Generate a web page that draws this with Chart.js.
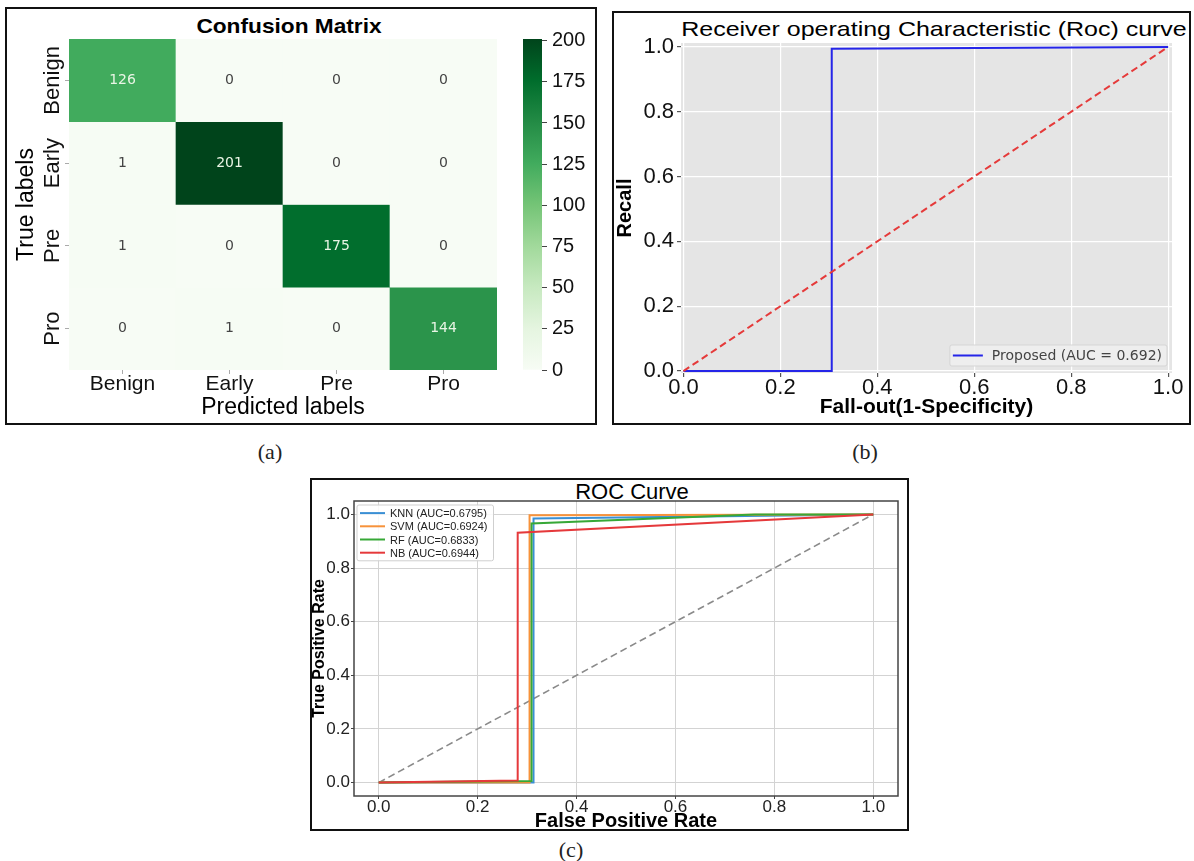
<!DOCTYPE html>
<html>
<head>
<meta charset="utf-8">
<title>Confusion matrix and ROC curves</title>
<script src="https://cdn.jsdelivr.net/npm/chart.js@4.4.1/dist/chart.umd.min.js"></script>
<style>
    body { margin: 0; background: #fff; width: 1194px; height: 861px; position: relative; overflow: hidden; font-family: "Liberation Sans", Arial, sans-serif; }
    .frame { position: absolute; border: 2px solid #111; box-sizing: border-box; }
    canvas { position: absolute; }
    .title { position: absolute; transform: translate(-50%, -50%); white-space: nowrap; color: #000; line-height: 1; }
    .caption { position: absolute; transform: translate(-50%, -50%); font-family: "Liberation Serif", serif; font-size: 22px; color: #222; line-height: 1; }
</style>
</head>
<body>
<div class="frame" style="left:5px;top:7px;width:592px;height:418px"></div>
<div class="frame" style="left:612px;top:11px;width:579px;height:414px"></div>
<div class="frame" style="left:310px;top:478px;width:599px;height:353px"></div>

<!-- the source figure is a little stretched sideways, so the titles are too -->
<div class="title" style="left:289px;top:25px;font-size:21px;font-weight:bold;transform:translate(-50%,-50%) scaleX(1.08)">Confusion Matrix</div>
<div class="title" style="left:934px;top:28px;font-size:21px;transform:translate(-50%,-50%) scaleX(1.19)">Receiver operating Characteristic (Roc) curve</div>
<div class="title" style="left:632px;top:492px;font-size:22px">ROC Curve</div>

<canvas id="cm" width="510" height="422" style="left:5px;top:3px"></canvas>
<canvas id="cm-bar" width="85" height="422" style="left:515px;top:3px"></canvas>
<canvas id="roc-proposed" width="578" height="412" style="left:612px;top:12px"></canvas>
<canvas id="roc-models" width="594" height="352" style="left:312px;top:481px"></canvas>

<div class="caption" style="left:270px;top:452px">(a)</div>
<div class="caption" style="left:865px;top:452px">(b)</div>
<div class="caption" style="left:571px;top:850px">(c)</div>

<script>
// start: Data
const predLabels = ['Benign', 'Early', 'Pre', 'Pro'];
const trueLabels = ['Benign', 'Early', 'Pre', 'Pro'];
const matrix = [
    [126, 0, 0, 0],
    [1, 201, 0, 0],
    [1, 0, 175, 0],
    [0, 1, 0, 144]
];

const proposedLabel = 'Proposed (AUC = 0.692)';
const proposedFpr = [0, 0.306, 0.306, 1];
const proposedTpr = [0, 0, 0.994, 1];

const chanceFpr = [0, 1];
const chanceTpr = [0, 1];

const modelLabels = ['KNN (AUC=0.6795)', 'SVM (AUC=0.6924)', 'RF (AUC=0.6833)', 'NB (AUC=0.6944)'];
const knnFpr = [0, 0.313, 0.313, 1];
const knnTpr = [0, 0, 0.985, 1];
const svmFpr = [0, 0.305, 0.305, 1];
const svmTpr = [0, 0, 0.997, 1];
const rfFpr = [0, 0.309, 0.309, 0.76, 1];
const rfTpr = [0, 0.006, 0.966, 1, 1];
const nbFpr = [0, 0.281, 0.281, 1];
const nbTpr = [0, 0.008, 0.932, 1];
// end: Data



Chart.defaults.font.family = '"Liberation Sans", Arial, sans-serif';
Chart.defaults.color = '#111';

const greens = ['#f7fcf5', '#e5f5e0', '#c7e9c0', '#a1d99b', '#74c476', '#41ab5d', '#238b45', '#006d2c', '#00441b'];
const colorMax = Math.max(...matrix.flat());

function hexToRgb(h) {
    return [1, 3, 5].map(i => parseInt(h.substr(i, 2), 16));
}
function greenAt(t) {
    t = Math.min(1, Math.max(0, t));
    const pos = t * (greens.length - 1);
    const i = Math.min(Math.floor(pos), greens.length - 2);
    const f = pos - i;
    const a = hexToRgb(greens[i]);
    const b = hexToRgb(greens[i + 1]);
    const c = a.map((v, k) => Math.round(v + (b[k] - v) * f));
    return 'rgb(' + c.join(',') + ')';
}
function toPoints(xs, ys) {
    return xs.map((x, i) => ({ x: x, y: ys[i] }));
}



// start: Plugins
const cellText = {
    id: 'cellText',
    afterDatasetsDraw(chart) {
        const ctx = chart.ctx;
        ctx.save();
        ctx.font = '14px "DejaVu Sans"';
        ctx.textAlign = 'center';
        ctx.textBaseline = 'middle';
        chart.data.datasets.forEach((ds, r) => {
            chart.getDatasetMeta(r).data.forEach((bar, c) => {
                const v = matrix[r][c];
                const p = bar.getCenterPoint();
                ctx.fillStyle = v / colorMax > 0.5 ? '#e9f5e5' : '#444';
                ctx.fillText(String(v), p.x, p.y);
            });
        });
        ctx.restore();
    }
};

// row names of the heatmap, turned like seaborn does
const rowLabels = {
    id: 'rowLabels',
    afterDraw(chart) {
        const ctx = chart.ctx;
        const y = chart.scales.y;
        ctx.save();
        ctx.font = '22px "Liberation Sans"';
        ctx.fillStyle = '#111';
        ctx.textAlign = 'center';
        ctx.textBaseline = 'middle';
        trueLabels.forEach((name, r) => {
            ctx.save();
            ctx.translate(y.right - 16, y.getPixelForValue(r + 0.5));
            ctx.rotate(-Math.PI / 2);
            ctx.fillText(name, 0, 0);
            ctx.restore();
        });
        ctx.restore();
    }
};

const plotBackground = {
    id: 'plotBackground',
    beforeDraw(chart, args, opts) {
        if (!opts.color) return;
        const a = chart.chartArea;
        chart.ctx.save();
        chart.ctx.fillStyle = opts.color;
        chart.ctx.fillRect(a.left, a.top, a.right - a.left, a.bottom - a.top);
        chart.ctx.restore();
    }
};

const frameBox = {
    id: 'frameBox',
    afterDraw(chart, args, opts) {
        if (!opts.color) return;
        const a = chart.chartArea;
        chart.ctx.save();
        chart.ctx.strokeStyle = opts.color;
        chart.ctx.lineWidth = opts.width;
        chart.ctx.strokeRect(a.left, a.top, a.right - a.left, a.bottom - a.top);
        chart.ctx.restore();
    }
};

// legend box drawn inside the plot, like matplotlib
const innerLegend = {
    id: 'innerLegend',
    afterDatasetsDraw(chart, args, opts) {
        const items = chart.data.datasets.filter(d => !d.noLegend);
        const ctx = chart.ctx;
        const a = chart.chartArea;
        ctx.save();
        ctx.font = opts.font;
        const textW = Math.max(...items.map(d => ctx.measureText(d.label).width));
        const w = opts.padLeft + opts.lineLen + opts.gap + textW + opts.padRight;
        const h = opts.padTop * 2 + items.length * opts.rowH;
        const x = opts.corner === 'lowerRight' ? a.right - opts.marginX - w : a.left + opts.marginX;
        const y = opts.corner === 'lowerRight' ? a.bottom - opts.marginY - h : a.top + opts.marginY;
        ctx.beginPath();
        ctx.roundRect(x, y, w, h, 2);
        ctx.fillStyle = opts.fill;
        ctx.fill();
        ctx.strokeStyle = opts.stroke;
        ctx.lineWidth = 1;
        ctx.stroke();
        ctx.textBaseline = 'middle';
        ctx.textAlign = 'left';
        items.forEach((d, i) => {
            const cy = y + opts.padTop + opts.rowH * (i + 0.5);
            ctx.beginPath();
            ctx.moveTo(x + opts.padLeft, cy);
            ctx.lineTo(x + opts.padLeft + opts.lineLen, cy);
            ctx.strokeStyle = d.borderColor;
            ctx.lineWidth = opts.lineWidth;
            ctx.stroke();
            ctx.fillStyle = opts.textColor;
            ctx.fillText(d.label, x + opts.padLeft + opts.lineLen + opts.gap, cy + 1);
        });
        ctx.restore();
    }
};
// end: Plugins



// start: Confusion matrix
new Chart(document.getElementById('cm'), {
    type: 'bar',
    data: {
        labels: predLabels,
        datasets: trueLabels.map((name, r) => ({
            label: name,
            data: predLabels.map(() => [r, r + 1]),
            backgroundColor: matrix[r].map(v => greenAt(v / colorMax)),
            grouped: false,
            barPercentage: 1,
            categoryPercentage: 1,
            borderWidth: 0
        }))
    },
    options: {
        responsive: false,
        animation: false,
        layout: { padding: { top: 36, right: 18, bottom: 0, left: 0 } },
        plugins: { legend: { display: false }, tooltip: { enabled: false } },
        scales: {
            x: {
                afterFit: s => { s.height = 55; },
                grid: { drawOnChartArea: false, offset: false, tickLength: 4, tickColor: '#aaa' },
                border: { display: false },
                ticks: { padding: -2, font: { size: 21 }, color: '#111' },
                title: { display: true, text: 'Predicted labels', font: { size: 23 }, color: '#000', padding: { top: 0, bottom: 4 } }
            },
            y: {
                min: 0,
                max: 4,
                reverse: true,
                afterFit: s => { s.width = 64; },
                afterBuildTicks: s => { s.ticks = trueLabels.map((_, r) => ({ value: r + 0.5 })); },
                ticks: { display: false },
                grid: { drawOnChartArea: false, tickLength: 4, tickColor: '#aaa' },
                border: { display: false },
                title: { display: true, text: 'True labels', font: { size: 23 }, color: '#000', padding: { top: 8, bottom: 0 } }
            }
        }
    },
    plugins: [cellText, rowLabels]
});

new Chart(document.getElementById('cm-bar'), {
    type: 'bar',
    data: {
        labels: [''],
        datasets: [{
            data: [[0, colorMax]],
            backgroundColor: function (c) {
                const chart = c.chart;
                if (!chart.chartArea) return greens[0];
                const y = chart.scales.y;
                const g = chart.ctx.createLinearGradient(0, y.getPixelForValue(0), 0, y.getPixelForValue(colorMax));
                greens.forEach((col, i) => g.addColorStop(i / (greens.length - 1), col));
                return g;
            },
            barPercentage: 1,
            categoryPercentage: 1,
            borderWidth: 0
        }]
    },
    options: {
        responsive: false,
        animation: false,
        layout: { padding: { top: 36, right: 0, bottom: 55, left: 8 } },
        plugins: { legend: { display: false }, tooltip: { enabled: false } },
        scales: {
            x: { display: false },
            y: {
                position: 'right',
                min: 0,
                max: colorMax,
                afterFit: s => { s.width = 58; },
                ticks: { stepSize: 25, includeBounds: false, padding: 5, color: '#111', font: { size: 20 } },
                grid: { drawOnChartArea: false, tickLength: 5, tickColor: '#444' },
                border: { display: false }
            }
        }
    }
});
// end: Confusion matrix



// start: ROC proposed
new Chart(document.getElementById('roc-proposed'), {
    type: 'scatter',
    data: {
        datasets: [
            {
                label: proposedLabel,
                data: toPoints(proposedFpr, proposedTpr),
                showLine: true,
                borderColor: '#2525e8',
                borderWidth: 2,
                pointRadius: 0,
                order: 1
            },
            {
                label: 'chance',
                noLegend: true,
                data: toPoints(chanceFpr, chanceTpr),
                showLine: true,
                borderColor: '#e53a3a',
                borderDash: [7, 4],
                borderWidth: 2,
                pointRadius: 0,
                order: 0
            }
        ]
    },
    options: {
        responsive: false,
        animation: false,
        layout: { padding: { top: 31, right: 18, bottom: 0, left: 0 } },
        plugins: {
            legend: { display: false },
            tooltip: { enabled: false },
            plotBackground: { color: '#e5e5e5' },
            innerLegend: {
                corner: 'lowerRight', marginX: 5, marginY: 7, font: '14px "DejaVu Sans"',
                rowH: 17, padTop: 2, padLeft: 3, padRight: 5, lineLen: 30, gap: 9, lineWidth: 2,
                textColor: '#444', fill: 'rgba(238,238,238,0.9)', stroke: '#d5d5d5'
            }
        },
        scales: {
            x: {
                type: 'linear',
                min: -0.005,
                max: 1.008,
                afterFit: s => { s.height = 51; },
                ticks: { stepSize: 0.2, includeBounds: false, padding: -2, color: '#111', font: { size: 22 }, callback: v => v.toFixed(1) },
                grid: { color: '#fff', lineWidth: 1.2, tickColor: '#555', tickLength: 4 },
                border: { display: false },
                title: { display: true, text: 'Fall-out(1-Specificity)', font: { size: 21, weight: 'bold' }, color: '#000', padding: { top: 0, bottom: 4 } }
            },
            y: {
                min: -0.006,
                max: 1.012,
                afterFit: s => { s.width = 69; },
                ticks: { stepSize: 0.2, includeBounds: false, padding: 3, color: '#111', font: { size: 22 }, callback: v => v.toFixed(1) },
                grid: { color: '#fff', lineWidth: 1.2, tickColor: '#555', tickLength: 4 },
                border: { display: false },
                title: { display: true, text: 'Recall', font: { size: 20, weight: 'bold' }, color: '#000', padding: { top: 1, bottom: 0 } }
            }
        }
    },
    plugins: [plotBackground, innerLegend]
});
// end: ROC proposed



// start: ROC models
const modelColors = ['#3a8fd4', '#f7923a', '#37a837', '#e5393b'];
const modelFpr = [knnFpr, svmFpr, rfFpr, nbFpr];
const modelTpr = [knnTpr, svmTpr, rfTpr, nbTpr];

const modelSets = modelLabels.map((label, i) => ({
    label: label,
    data: toPoints(modelFpr[i], modelTpr[i]),
    showLine: true,
    borderColor: modelColors[i],
    borderWidth: 2,
    pointRadius: 0,
    order: 4 - i
}));
modelSets.push({
    label: 'chance',
    noLegend: true,
    data: toPoints(chanceFpr, chanceTpr),
    showLine: true,
    borderColor: '#8a8a8a',
    borderDash: [7, 4],
    borderWidth: 1.6,
    pointRadius: 0,
    order: 10
});

new Chart(document.getElementById('roc-models'), {
    type: 'scatter',
    data: { datasets: modelSets },
    options: {
        responsive: false,
        animation: false,
        layout: { padding: { top: 20, right: 8, bottom: 0, left: 0 } },
        plugins: {
            legend: { display: false },
            tooltip: { enabled: false },
            frameBox: { color: '#444', width: 1.5 },
            innerLegend: {
                corner: 'upperLeft', marginX: 3, marginY: 4, font: '11px "Liberation Sans"',
                rowH: 13.2, padTop: 1.5, padLeft: 3, padRight: 6, lineLen: 25, gap: 5, lineWidth: 2,
                textColor: '#222', fill: 'rgba(255,255,255,0.85)', stroke: '#cfcfcf'
            }
        },
        scales: {
            x: {
                type: 'linear',
                min: -0.05,
                max: 1.05,
                afterFit: s => { s.height = 37; },
                ticks: { stepSize: 0.2, includeBounds: false, padding: -2, color: '#222', font: { size: 17 }, callback: v => v.toFixed(1) },
                grid: { color: '#d3d3d3', tickColor: '#444', tickLength: 3 },
                border: { display: false },
                title: { display: true, text: 'False Positive Rate', font: { size: 20, weight: 'bold', lineHeight: 1 }, color: '#000', padding: { top: 0, bottom: 2 } }
            },
            y: {
                min: -0.05,
                max: 1.05,
                afterFit: s => { s.width = 42; },
                ticks: { stepSize: 0.2, includeBounds: false, padding: 1, color: '#222', font: { size: 17 }, callback: v => v.toFixed(1) },
                grid: { color: '#d3d3d3', tickColor: '#444', tickLength: 3 },
                border: { display: false },
                title: { display: true, text: 'True Positive Rate', font: { size: 16, weight: 'bold', lineHeight: 1 }, color: '#000', padding: { top: 0, bottom: 0 } }
            }
        }
    },
    plugins: [frameBox, innerLegend]
});
// end: ROC models
</script>
</body>
</html>
